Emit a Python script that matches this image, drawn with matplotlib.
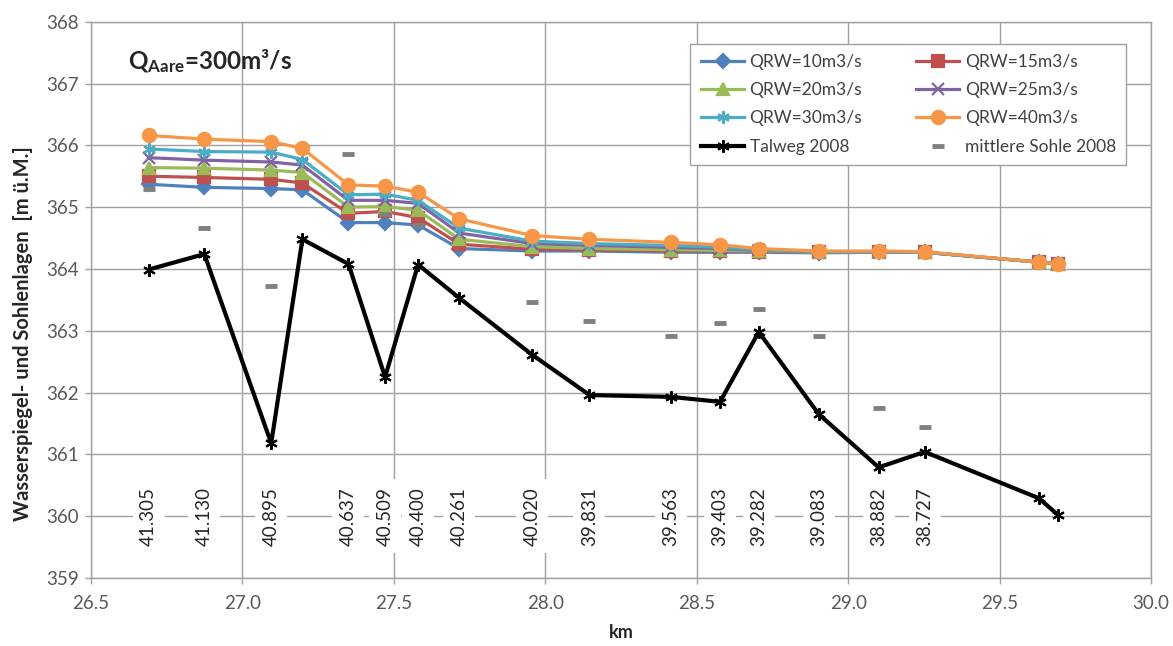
import numpy as np
import matplotlib
matplotlib.use("Agg")
import matplotlib.pyplot as plt

plt.rcParams["font.family"] = ["Lato", "DejaVu Sans"]
plt.rcParams["mathtext.fontset"] = "custom"
plt.rcParams["mathtext.rm"] = "Lato"
plt.rcParams["mathtext.bf"] = "Lato:bold"

# km positions of the cross sections
km = [26.690, 26.874, 27.095, 27.198, 27.350, 27.471, 27.580, 27.716, 27.957,
      28.146, 28.415, 28.577, 28.705, 28.903, 29.101, 29.253, 29.630, 29.693]

# chainage labels ('' = no label)
chainage = ["41.305", "41.130", "40.895", "", "40.637", "40.509", "40.400",
            "40.261", "40.020", "39.831", "39.563", "39.403", "39.282",
            "39.083", "38.882", "38.727", "", ""]

q10 = [365.37, 365.32, 365.30, 365.28, 364.75, 364.75, 364.71, 364.33, 364.29,
       364.29, 364.27, 364.27, 364.27, 364.26, 364.27, 364.27, 364.11, 364.08]
q15 = [365.50, 365.48, 365.45, 365.39, 364.90, 364.93, 364.83, 364.40, 364.32,
       364.31, 364.29, 364.29, 364.28, 364.27, 364.28, 364.27, 364.11, 364.08]
q20 = [365.64, 365.63, 365.60, 365.56, 365.00, 365.01, 364.95, 364.48, 364.36,
       364.33, 364.31, 364.30, 364.29, 364.27, 364.28, 364.27, 364.11, 364.08]
q25 = [365.80, 365.76, 365.73, 365.68, 365.11, 365.11, 365.06, 364.58, 364.41,
       364.38, 364.35, 364.33, 364.30, 364.28, 364.28, 364.27, 364.11, 364.08]
q30 = [365.94, 365.90, 365.89, 365.77, 365.20, 365.21, 365.11, 364.66, 364.45,
       364.41, 364.38, 364.35, 364.31, 364.28, 364.28, 364.27, 364.11, 364.08]
q40 = [366.16, 366.10, 366.06, 365.95, 365.36, 365.34, 365.24, 364.81, 364.54,
       364.48, 364.43, 364.39, 364.33, 364.29, 364.29, 364.28, 364.11, 364.08]

talweg = [363.99, 364.24, 361.18, 364.48, 364.08, 362.25, 364.07, 363.53, 362.61,
          361.96, 361.93, 361.85, 362.98, 361.65, 360.79, 361.04, 360.29, 360.02]

nan = np.nan
sohle = [365.29, 364.66, 363.73, nan, 365.86, 364.89, 364.71, nan, 363.46,
         363.15, 362.91, 363.12, 363.35, 362.92, 361.75, 361.44, nan, nan]

x_ticks = [26.5, 27.0, 27.5, 28.0, 28.5, 29.0, 29.5, 30.0]
y_ticks = [359, 360, 361, 362, 363, 364, 365, 366, 367, 368]

fig = plt.figure(figsize=(11.73, 6.46), dpi=100)
ax = fig.add_axes([0.0776, 0.1053, 0.9036, 0.8611])

series = [
    (q10, "QRW=10m3/s", "#4F81BD", "D", 7),
    (q15, "QRW=15m3/s", "#C0504D", "s", 8),
    (q20, "QRW=20m3/s", "#9BBB59", "^", 9),
    (q25, "QRW=25m3/s", "#8064A2", "x", 8),
    (q30, "QRW=30m3/s", "#4BACC6", (6, 2, 0), 9),
    (q40, "QRW=40m3/s", "#F79646", "o", 9.5),
]
handles = {}
for vals, lbl, col, mk, ms in series:
    h, = ax.plot(km, vals, color=col, lw=2.3, marker=mk, markersize=ms,
                 markeredgecolor=col, markeredgewidth=1.6, label=lbl, zorder=3)
    handles[lbl] = h

h_tal, = ax.plot(km, talweg, color="black", lw=3, marker=(6, 2, 0),
                 markersize=9, markeredgewidth=1.5, label="Talweg 2008", zorder=4)
h_soh, = ax.plot(km, sohle, ls="none", marker="_", color="#808080",
                 markersize=9, markeredgewidth=3.5, label="mittlere Sohle 2008",
                 zorder=5)

# chainage labels along the 360 line
for xv, txt in zip(km, chainage):
    if txt:
        ax.text(xv, 360.0, txt, rotation=90, ha="center", va="center",
                fontsize=13.5, color="#262626", zorder=6,
                bbox=dict(boxstyle="square,pad=0.4", fc="white", ec="none"))

ax.set_xlim(26.5, 30.0)
ax.set_ylim(359, 368)
ax.set_xticks(x_ticks)
ax.set_xticklabels([f"{v:.1f}" for v in x_ticks])
ax.set_yticks(y_ticks)
ax.grid(True, color="#a0a0a0", lw=1, zorder=0)
ax.set_axisbelow(True)
for s in ax.spines.values():
    s.set_color("#a0a0a0")
    s.set_linewidth(1)
ax.tick_params(axis="both", colors="#a0a0a0", labelcolor="#595959",
               labelsize=13.5, length=4, width=1)
ax.tick_params(axis="x", pad=8)
ax.tick_params(axis="y", pad=5)

ax.set_xlabel("km", fontsize=13, fontweight="bold", color="#262626", labelpad=9)
ax.set_ylabel("Wasserspiegel- und Sohlenlagen  [m ü.M.]", fontsize=14.5,
              fontweight="bold", color="#262626")
ax.yaxis.set_label_coords(-0.055, 0.44)

ax.text(0.035, 0.93, r"$\mathbf{Q_{Aare}}$=300m³/s", transform=ax.transAxes,
        fontsize=17.5, fontweight="bold", color="#262626", ha="left", va="center")

order = ["QRW=10m3/s", "QRW=15m3/s", "QRW=20m3/s", "QRW=25m3/s",
         "QRW=30m3/s", "QRW=40m3/s"]
hl = [handles[order[0]], handles[order[2]], handles[order[4]], h_tal,
      handles[order[1]], handles[order[3]], handles[order[5]], h_soh]
leg = ax.legend(handles=hl, ncol=2, loc="upper right",
                bbox_to_anchor=(0.985, 0.976), fontsize=12.5, frameon=True,
                fancybox=False, edgecolor="#a0a0a0", framealpha=1,
                handlelength=2.5, handletextpad=0.3, columnspacing=3.1,
                labelspacing=0.7, borderpad=0.6)
for t in leg.get_texts():
    t.set_color("#404040")

fig.savefig("out.png", dpi=100)
